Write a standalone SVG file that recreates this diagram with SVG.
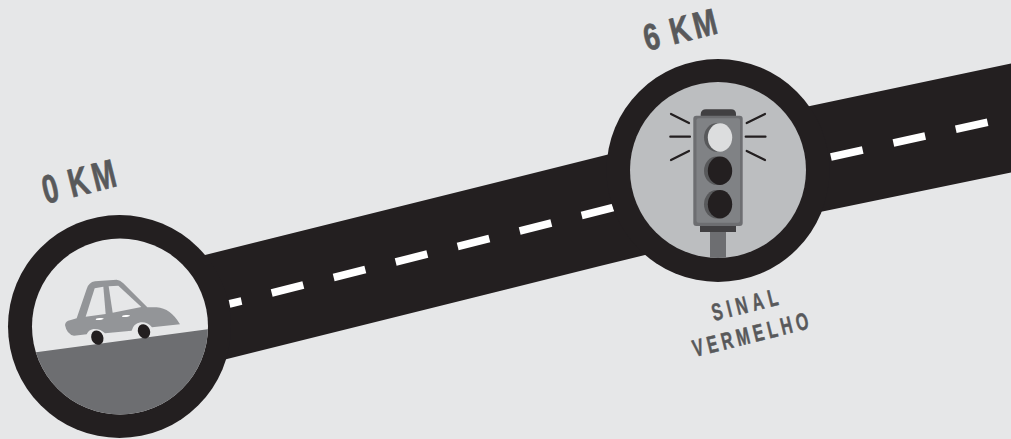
<svg xmlns="http://www.w3.org/2000/svg" width="1011" height="439" viewBox="0 0 1011 439">
<defs>
<style>
.bg{fill:#e6e7e8}
.blk{fill:#231f20}
.dash{fill:#fff}
.t{font-family:"Liberation Sans Narrow","Liberation Sans",sans-serif;font-weight:700;fill:#58595b;stroke:#58595b}
.big{font-size:40px;stroke-width:.7px}
.small{font-size:24px;stroke-width:.5px}
.ray{stroke:#231f20;stroke-width:2.2;stroke-linecap:round;fill:none}
</style>
<clipPath id="c1"><circle cx="120" cy="326.5" r="88"/></clipPath>
<clipPath id="c2"><circle cx="718" cy="170" r="88"/></clipPath>
<rect id="d" x="-16.3" y="-3.8" width="32.6" height="7.6" class="dash"/>
</defs>
<rect class="bg" width="1011" height="439"/>
<g id="connectors">
<polygon class="blk" points="150,268.7 205,255 606,155 650,144 780,113 810,106 1011,63.500 1011,172.500 820,212 790,219 645,255 600,266 227,359 150,378"/>
<g id="dashes">
<polygon class="dash" points="228.700,300 240.700,297.300 242.300,304.700 230.300,307.700"/>
<use href="#d" transform="translate(287.500,289) rotate(-14)"/>
<use href="#d" transform="translate(349.500,273.500) rotate(-14)"/>
<use href="#d" transform="translate(411.500,258) rotate(-14)"/>
<use href="#d" transform="translate(473.500,242.500) rotate(-14)"/>
<use href="#d" transform="translate(535.500,227) rotate(-14)"/>
<use href="#d" transform="translate(597.500,211.500) rotate(-14)"/>
<use href="#d" transform="translate(846.800,153.500) rotate(-12.500)"/>
<use href="#d" transform="translate(909.300,139.500) rotate(-12.500)"/>
<use href="#d" transform="translate(971.700,125.800) rotate(-12.500)"/>
</g>
</g>
<g id="node-0km">
<circle class="blk" cx="119.500" cy="326.500" r="111.500"/>
<circle class="bg" cx="120" cy="326.500" r="88"/>
<polygon clip-path="url(#c1)" fill="#6d6e71" points="20,354.500 36,352.300 207.700,329.300 230,326.300 230,430 20,430"/>
<g id="car" transform="translate(50,265) scale(.33333)">
<path fill="#939598" d="M45,180 Q47,168 60,166 L80,160 L110,72 Q116,52 135,49 L200,44 Q210,44 220,55 L292,127 L320,127 Q362,130 390,178 L306,187 Q292,170 272,172 Q250,176 245,197 L165,205 Q150,190 130,192 Q115,195 110,208 L72,212 Q50,208 45,180Z"/>
<polygon class="bg" points="107,155 134,70 160,65 167,147"/>
<polygon class="bg" points="176,64 205,62 274,126 188,143"/>
<ellipse cx="149" cy="162" rx="12" ry="3" fill="#fff" transform="rotate(-6 149 162)"/>
<ellipse cx="228" cy="153" rx="12" ry="3" fill="#fff" transform="rotate(-6 228 153)"/>
<ellipse class="blk" cx="142" cy="218" rx="18" ry="22" transform="rotate(-22 142 218)"/>
<ellipse class="blk" cx="282" cy="199" rx="18" ry="22" transform="rotate(-22 282 199)"/>
</g>
<text class="t big" dx="0 16 6" transform="translate(46,204) rotate(-14) scale(.7,1)">0KM</text>
</g>
<g id="node-6km">
<circle class="blk" cx="718" cy="170.500" r="111.500"/>
<circle cx="718" cy="170" r="88" fill="#bcbec0"/>
<g id="traffic-light" clip-path="url(#c2)">
<rect x="710" y="230" width="16" height="30" fill="#6d6e71"/>
<path fill="#414042" d="M700.700,117 V114 Q701,109.300 706,109.300 H731 Q736,109.300 736,114 V117Z"/>
<rect x="700" y="224" width="36" height="8" fill="#414042"/>
<rect x="693.300" y="115.700" width="49.400" height="110.300" rx="3" fill="#6d6e71"/>
<rect x="696.500" y="118.300" width="43.500" height="104.500" rx="2" fill="#808285"/>
<ellipse cx="716.500" cy="137.500" rx="12.500" ry="14.200" fill="#58595b"/>
<ellipse cx="720" cy="137.500" rx="12.200" ry="14.200" fill="#dcddde"/>
<ellipse cx="716.500" cy="170.800" rx="12.500" ry="14.200" fill="#58595b"/>
<ellipse cx="720" cy="170.800" rx="12.200" ry="14.200" fill="#231f20"/>
<ellipse cx="716.500" cy="204.300" rx="12.500" ry="14.200" fill="#58595b"/>
<ellipse cx="720" cy="204.300" rx="12.200" ry="14.200" fill="#231f20"/>
<path class="ray" d="M671,114 689,123 M670.300,136.700H690 M671,160 689,151 M746.700,123 765,114 M745.700,136.700H765.500 M746.700,151 765,160"/>
</g>
<text class="t big" style="font-size:37px" dx="0 15 5" transform="translate(647,51) rotate(-14) scale(.76,1)">6KM</text>
<text class="t small" style="letter-spacing:7.500px" transform="translate(714,321) rotate(-14) scale(.66,1)">SINAL</text>
<text class="t small" style="letter-spacing:6.200px" transform="translate(695,357) rotate(-14) scale(.66,1)">VERMELHO</text>
</g>
</svg>
